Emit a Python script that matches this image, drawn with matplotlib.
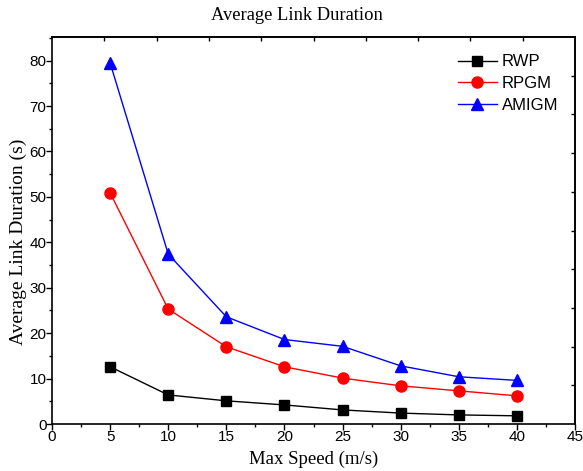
import matplotlib
matplotlib.use("Agg")
import matplotlib.pyplot as plt
import numpy as np
from matplotlib.ticker import MultipleLocator, FixedLocator, NullFormatter

speed = [5, 10, 15, 20, 25, 30, 35, 40]
rwp = [12.6, 6.4, 5.1, 4.2, 3.1, 2.4, 2.0, 1.8]
rpgm = [50.9, 25.3, 17.0, 12.6, 10.1, 8.4, 7.3, 6.2]
amigm = [79.5, 37.4, 23.6, 18.6, 17.1, 12.8, 10.4, 9.6]

serif = "Liberation Serif"
sans = "Liberation Sans"

fig = plt.figure(figsize=(5.83, 4.71), dpi=100)
ax = fig.add_axes([52/583, 47/471, (575-52)/583, (424-37)/471])

ax.plot(speed, rwp, color="black", marker="s", markersize=7.5, linewidth=1.0, label="RWP")
ax.plot(speed, rpgm, color="red", marker="o", markersize=8, linewidth=1.0, label="RPGM")
ax.plot(speed, amigm, color="blue", marker="^", markersize=8.5, linewidth=1.0, label="AMIGM")

ax.set_xlim(0, 45)
ax.set_ylim(0, 85.2)
ax.xaxis.set_major_locator(MultipleLocator(5))
ax.xaxis.set_minor_locator(MultipleLocator(2.5))
ax.yaxis.set_major_locator(FixedLocator([0, 10, 20, 30, 40, 50, 60, 70, 80]))
ax.yaxis.set_minor_locator(MultipleLocator(5))
ax.tick_params(which="major", direction="out", length=4, width=1, labelsize=11)
ax.tick_params(which="minor", direction="out", length=2.5, width=1)
for lab in ax.get_xticklabels() + ax.get_yticklabels():
    lab.set_fontfamily(sans)
ax.tick_params(axis="x", pad=0)
ax.tick_params(axis="y", pad=0)
for s in ax.spines.values():
    s.set_linewidth(1.2)

# top and right axes with independent inward ticks
top = ax.secondary_xaxis("top")
top.xaxis.set_major_locator(FixedLocator(np.linspace(0, 45, 11)[1:-1]))
top.xaxis.set_major_formatter(NullFormatter())
top.tick_params(direction="in", length=3, width=1)
top.spines["top"].set_linewidth(1.2)
right = ax.secondary_yaxis("right")
right.yaxis.set_major_locator(FixedLocator(np.linspace(0, 85.2, 11)[1:-1]))
right.yaxis.set_major_formatter(NullFormatter())
right.tick_params(direction="in", length=3, width=1)
right.spines["right"].set_linewidth(1.2)

ax.set_xlabel("Max Speed (m/s)", fontfamily=serif, fontsize=13.5, labelpad=5)
ax.set_ylabel("Average Link Duration (s)", fontfamily=serif, fontsize=14)
ax.yaxis.set_label_coords(-0.048, 0.47)
fig.text(297/583, 1 - 16/471, "Average Link Duration", fontfamily=serif, fontsize=13.3,
         ha="center", va="center")

leg = ax.legend(loc="upper right", frameon=False, prop={"family": sans, "size": 12},
                handlelength=2.3, handletextpad=0.3, labelspacing=0.4,
                bbox_to_anchor=(0.99, 0.985), borderaxespad=0.3)

fig.savefig("out.png", dpi=100)
